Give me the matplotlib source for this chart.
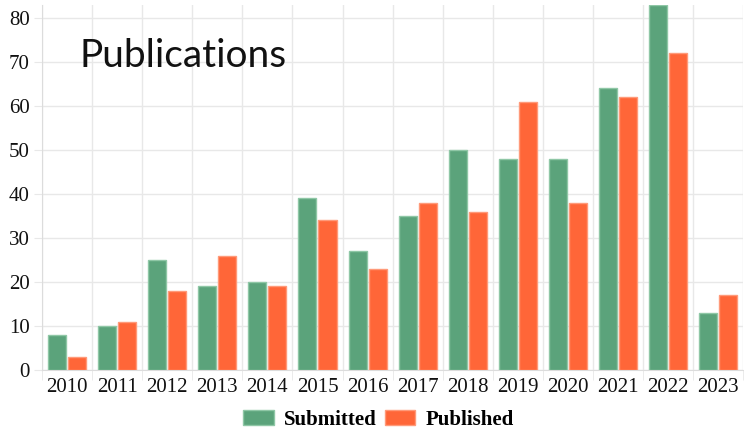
import matplotlib.pyplot as plt
import numpy as np

plt.rcParams["font.family"] = ["Liberation Serif", "DejaVu Serif"]

years = ["2010", "2011", "2012", "2013", "2014", "2015", "2016",
         "2017", "2018", "2019", "2020", "2021", "2022", "2023"]
submitted = [8, 10, 25, 19, 20, 39, 27, 35, 50, 48, 48, 64, 83, 13]
published = [3, 11, 18, 26, 19, 34, 23, 38, 36, 61, 38, 62, 72, 17]

green = "#5ba37b"
orange = "#ff6638"
grid = "#e8e8e8"

fig = plt.figure(figsize=(7.44, 4.32), dpi=100)
ax = fig.add_axes([42 / 744, 62 / 432, 1 - 42 / 744 - 0.001, (370 - 4.8) / 432])

x = np.arange(len(years))
ax.bar(x - 0.2, submitted, width=0.36, color=green, edgecolor="#8fc7a6",
       linewidth=1, label="Submitted", zorder=3)
ax.bar(x + 0.2, published, width=0.36, color=orange, edgecolor="#ff9a7a",
       linewidth=1, label="Published", zorder=3)

ax.set_xlim(-0.5, len(years) - 0.5)
ax.set_ylim(0, 83)
ax.set_yticks(range(0, 81, 10))
ax.set_xticks(x)
ax.set_xticklabels(years)

# vertical gridlines between categories
ax.set_xticks(np.arange(-0.5, len(years), 1), minor=True)
ax.grid(axis="x", which="minor", color=grid, linewidth=1, zorder=0)
ax.grid(axis="y", which="major", color=grid, linewidth=1, zorder=0)
ax.tick_params(axis="x", which="major", length=0, pad=6, labelsize=15, labelcolor="#111111")
ax.tick_params(axis="x", which="minor", length=7, color=grid)
ax.tick_params(axis="y", length=6, color=grid, pad=3, labelsize=15, labelcolor="#111111")

for s in ["top", "right"]:
    ax.spines[s].set_visible(False)
ax.spines["left"].set_color("#dcdcdc")
ax.spines["bottom"].set_color("#dcdcdc")

ax.text(0.053, 0.83, "Publications", transform=ax.transAxes, fontsize=28,
        fontfamily="Lato", color="#111111", va="baseline", ha="left")

fig.legend(loc="lower center", bbox_to_anchor=(0.509, -0.038), ncol=2,
           frameon=False, handlelength=1.45, handleheight=0.75,
           columnspacing=0.4, handletextpad=0.5,
           prop={"weight": "bold", "size": 15})

plt.savefig("out.png", dpi=100)
